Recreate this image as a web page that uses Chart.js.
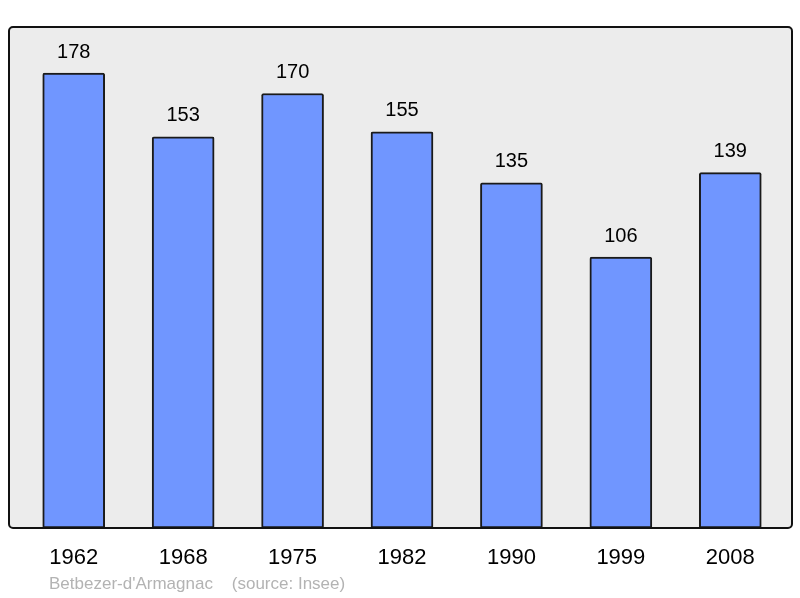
<!DOCTYPE html>
<html lang="en">
<head>
  <meta charset="UTF-8">
  <title>Population chart</title>
  <style>
    body { margin: 0; background: #ffffff; }
    #wrap { width: 800px; height: 598px; }
  </style>
</head>
<body>
  <div id="wrap"><canvas id="popChart" width="800" height="598"></canvas></div>

  <script src="https://cdn.jsdelivr.net/npm/chart.js"></script>
  <script>
    // data
    const years = ['1962', '1968', '1975', '1982', '1990', '1999', '2008'];
    const population = [178, 153, 170, 155, 135, 106, 139];
    const commune = "Betbezer-d'Armagnac";
    const source = '(source: Insee)';

    // frame, background and captions
    const framePlugin = {
      id: 'frame',
      beforeDraw(chart) {
        const ctx = chart.ctx;
        ctx.save();
        ctx.beginPath();
        ctx.roundRect(9, 27, 783, 501, 4);
        ctx.fillStyle = '#ececec';
        ctx.fill();
        ctx.restore();
      },
      afterDatasetsDraw(chart) {
        const ctx = chart.ctx;
        ctx.save();
        ctx.beginPath();
        ctx.roundRect(9, 27, 783, 501, 4);
        ctx.lineWidth = 2;
        ctx.strokeStyle = '#111';
        ctx.stroke();

        // value labels above bars
        ctx.font = '20px "Liberation Sans", Arial, sans-serif';
        ctx.fillStyle = '#000';
        ctx.textAlign = 'center';
        ctx.textBaseline = 'middle';
        chart.getDatasetMeta(0).data.forEach((bar, i) => {
          ctx.fillText(population[i], bar.x, bar.y - 21);
        });

        // source line
        ctx.font = '17px "Liberation Sans", Arial, sans-serif';
        ctx.fillStyle = '#b3b3b3';
        ctx.textAlign = 'left';
        ctx.fillText(commune + '    ' + source, 49, 584);
        ctx.restore();
      }
    };

    new Chart(document.getElementById('popChart'), {
      type: 'bar',
      data: {
        labels: years,
        datasets: [{
          data: population,
          backgroundColor: '#7096ff',
          borderColor: '#1a1a1a',
          borderWidth: 2,
          borderRadius: 2,
          borderSkipped: false,
          barThickness: 62
        }]
      },
      options: {
        responsive: false,
        animation: false,
        layout: { padding: { top: 27, left: 19, right: 15, bottom: 0 } },
        plugins: {
          legend: { display: false },
          tooltip: { enabled: false }
        },
        scales: {
          y: { display: false, min: 0, max: 196 },
          x: {
            grid: { display: false },
            border: { display: false },
            ticks: {
              color: '#000',
              padding: 9,
              font: { size: 22, family: '"Liberation Sans", Arial, sans-serif' }
            },
            afterFit(scale) { scale.height = 70; }
          }
        }
      },
      plugins: [framePlugin]
    });
  </script>
</body>
</html>
